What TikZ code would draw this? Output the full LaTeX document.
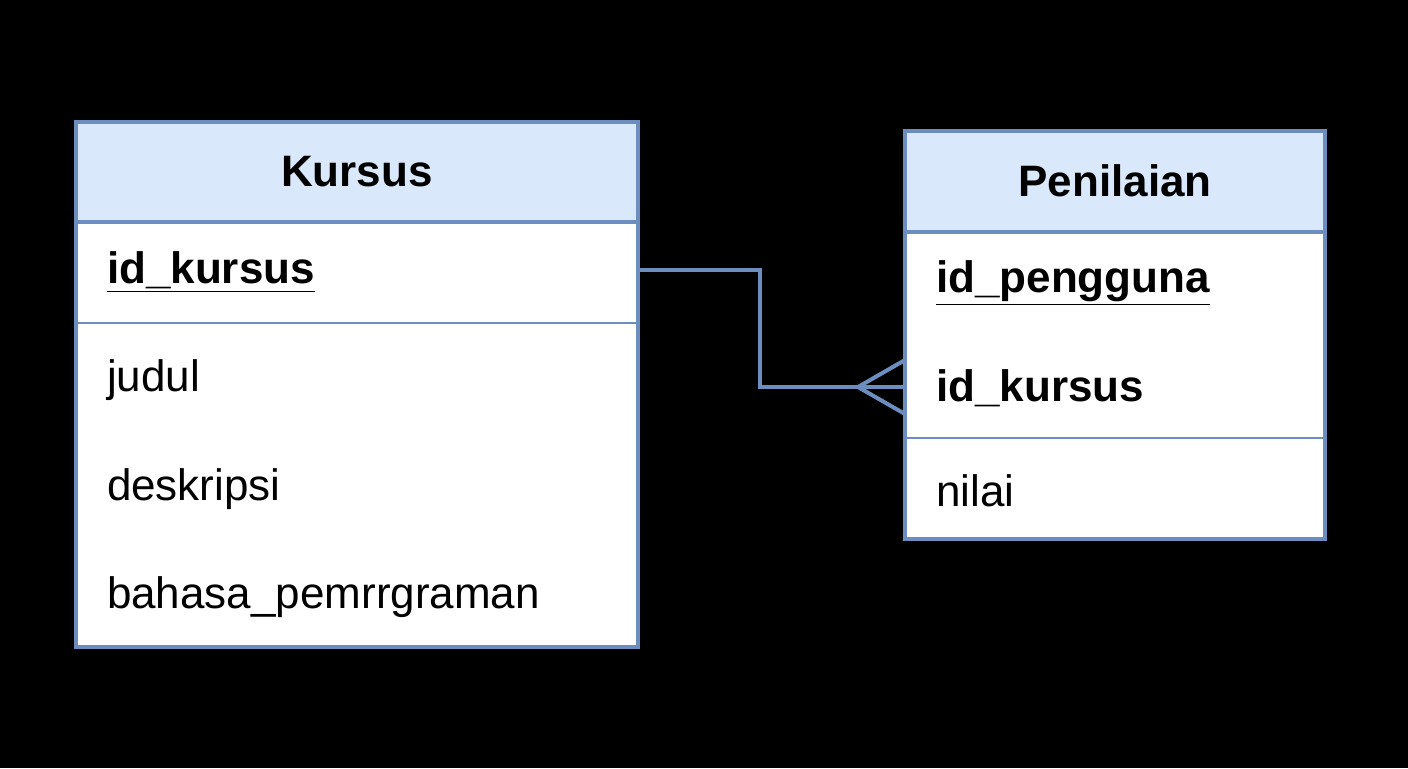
\documentclass[tikz,border=0pt]{standalone}
\usepackage{fontspec}
\setmainfont{Liberation Sans}
\begin{document}
\begin{tikzpicture}[x=0.5pt,y=-0.5pt]
\definecolor{ln}{HTML}{6C8EBF}
\definecolor{hd}{HTML}{DAE8FC}
\tikzset{
 box/.style={draw=ln,line width=1.6pt,fill=white,inner sep=0pt},
 head/.style={draw=ln,line width=1.6pt,fill=hd,inner sep=0pt},
 sep/.style={draw=ln,line width=1.4pt},
 ttl/.style={font=\fontsize{22}{26}\selectfont\bfseries},
 key/.style={font=\fontsize{22}{26}\selectfont\bfseries,anchor=west},
 fld/.style={font=\fontsize{22}{26}\selectfont,anchor=west},
 conn/.style={draw=ln,line width=2pt}
}
\fill[black] (0,0) rectangle (1408,768);
\useasboundingbox (0,0) rectangle (1408,768);
% Kursus
\node[box,minimum width=281pt,minimum height=262.5pt] (kb) at (357,384.5) {};
\node[head,minimum width=281pt,minimum height=50pt] (kh) at (357,172) {};
\node[ttl] (kt) at (357,172) {Kursus};
\draw[sep] (76,323) -- (638,323);
\node[key] (k1) at (100,272) {\underline{id\_kursus}};
\node[fld] (k2) at (100,380) {judul};
\node[fld] (k3) at (100,489) {deskripsi};
\node[fld] (k4) at (100,597) {bahasa\_pemrrgraman};
% Penilaian
\node[box,minimum width=210pt,minimum height=204pt] (pb) at (1115,335) {};
\node[head,minimum width=210pt,minimum height=50.5pt] (ph) at (1115,181.5) {};
\node[ttl] (pt) at (1115,181) {Penilaian};
\draw[sep] (905,438) -- (1325,438);
\node[key] (p1) at (929,283) {\underline{id\_pengguna}};
\node[key] (p2) at (929,388) {id\_kursus};
\node[fld] (p3) at (929,491) {nilai};
% connector
\coordinate (a) at (638,270);
\coordinate (b) at (905,387);
\coordinate (c) at (858,387);
\draw[conn] (a) -- (760,270) -- (760,387) -- (b);
\draw[conn] (905,360) -- (c) -- (905,414);
\end{tikzpicture}
\end{document}
